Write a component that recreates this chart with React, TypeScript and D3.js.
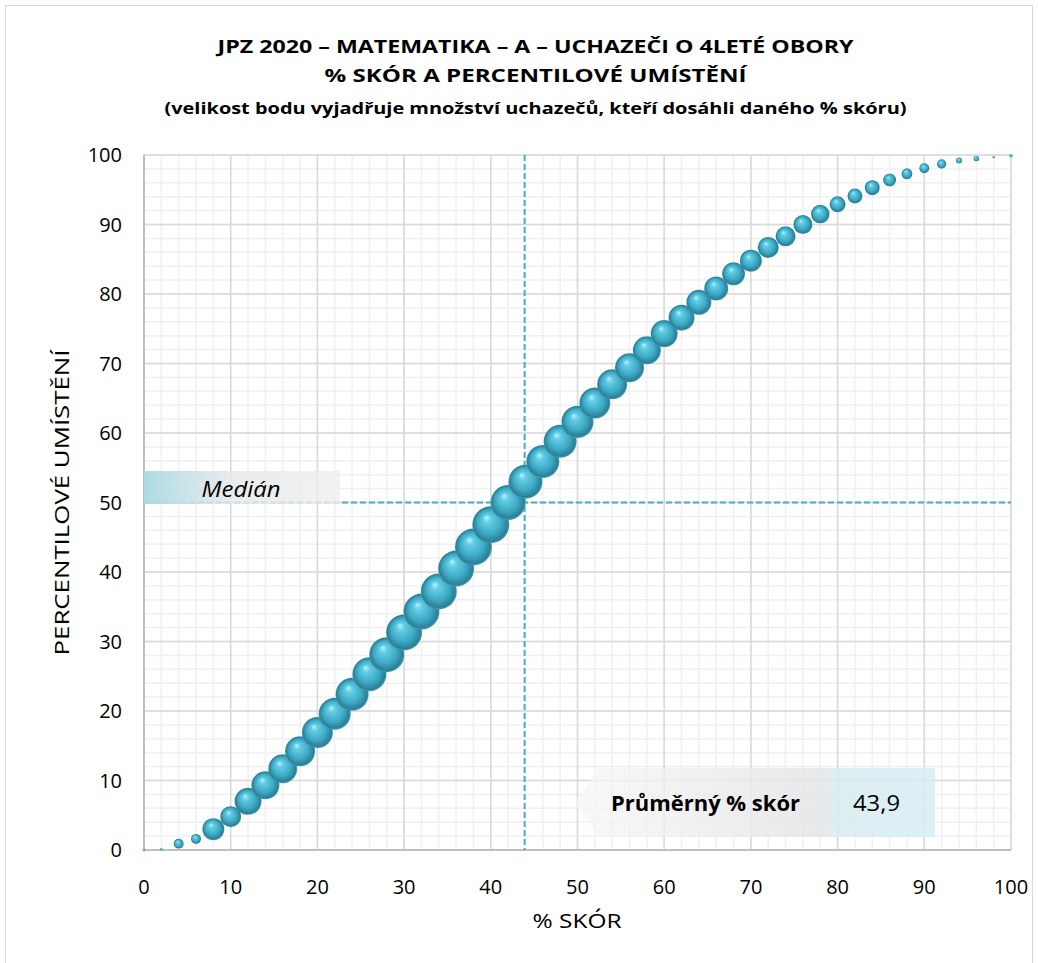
import React from "react";
import * as d3 from "d3";

const scorePct = [0, 2, 4, 6, 8, 10, 12, 14, 16, 18, 20, 22, 24, 26, 28, 30, 32, 34, 36, 38, 40, 42, 44, 46, 48, 50, 52, 54, 56, 58, 60, 62, 64, 66, 68, 70, 72, 74, 76, 78, 80, 82, 84, 86, 88, 90, 92, 94, 96, 98, 100];
const percentile = [0, 0.1, 0.9, 1.6, 3.0, 4.8, 7.0, 9.3, 11.7, 14.2, 16.9, 19.6, 22.4, 25.3, 28.1, 31.3, 34.3, 37.2, 40.5, 43.6, 46.8, 50.0, 53.0, 55.9, 58.8, 61.6, 64.3, 67.0, 69.4, 71.9, 74.3, 76.6, 78.8, 80.8, 82.9, 84.8, 86.7, 88.3, 90.0, 91.5, 92.9, 94.1, 95.3, 96.4, 97.3, 98.1, 98.7, 99.2, 99.5, 99.7, 99.9];
// relative number of candidates at each score (bubble size)
const candidates = [2, 1.5, 25, 25, 121, 110, 182, 196, 210, 225, 240, 256, 272, 289, 306, 324, 324, 324, 324, 342, 342, 306, 289, 272, 272, 256, 240, 225, 210, 196, 182, 169, 156, 144, 132, 121, 110, 100, 90, 86, 64, 56, 56, 42, 30, 25, 22, 9, 8, 1.7, 3];

const xTicks = [0, 10, 20, 30, 40, 50, 60, 70, 80, 90, 100];
const yTicks = [0, 10, 20, 30, 40, 50, 60, 70, 80, 90, 100];
const minorTicks = d3.range(0, 101, 2);

const meanScore = 43.9;
const medianPercentile = 50;
const meanLabel = "43,9";

const titleLines = [
  "JPZ 2020 – MATEMATIKA – A – UCHAZEČI O 4LETÉ OBORY",
  "% SKÓR A PERCENTILOVÉ UMÍSTĚNÍ",
  "(velikost bodu vyjadřuje množství uchazečů, kteří dosáhli daného % skóru)",
];

const W = 1038;
const H = 963;
const L = 144, R = 1011, T = 155, B = 850;

export default function App() {
  const x = d3.scaleLinear().domain([0, 100]).range([L, R]);
  const y = d3.scaleLinear().domain([0, 100]).range([B, T]);
  const r = d3.scaleSqrt().domain([0, d3.max(candidates) as number]).range([0, 18.5]);
  const font = "'Open Sans', 'DejaVu Sans', sans-serif";
  const lineColor = "#45aec8";

  const pts = scorePct.map((s, i) => ({ s, p: percentile[i], c: candidates[i] }));

  return (
    <svg width={W} height={H} style={{ position: "absolute", left: 0, top: 0, background: "#fff" }} fontFamily={font}>
      <defs>
        <radialGradient id="ball" cx="50%" cy="50%" r="50%" fx="38%" fy="30%">
          <stop offset="0%" stopColor="#b8f5fd" />
          <stop offset="22%" stopColor="#62cde4" />
          <stop offset="65%" stopColor="#3ea9c4" />
          <stop offset="92%" stopColor="#2a8098" />
          <stop offset="100%" stopColor="#4a9db1" />
        </radialGradient>
        <linearGradient id="medGrad" x1="0" x2="1" y1="0" y2="0">
          <stop offset="0%" stopColor="#a9d9e4" stopOpacity={0.95} />
          <stop offset="45%" stopColor="#e6e9ea" stopOpacity={0.85} />
          <stop offset="100%" stopColor="#eeeeee" stopOpacity={0.8} />
        </linearGradient>
        <linearGradient id="meanGrad" x1="0" x2="1" y1="0" y2="0">
          <stop offset="0%" stopColor="#f6f6f6" stopOpacity={0.7} />
          <stop offset="40%" stopColor="#ececec" stopOpacity={0.85} />
          <stop offset="70%" stopColor="#e3e5e6" stopOpacity={0.85} />
          <stop offset="72%" stopColor="#d8ecf1" stopOpacity={0.85} />
          <stop offset="100%" stopColor="#d5edf3" stopOpacity={0.85} />
        </linearGradient>
      </defs>

      <rect x={5.5} y={5.5} width={1027} height={965} fill="#fff" stroke="#d9d9d9" strokeWidth={1} />

      {titleLines.map((t, i) => (
        <text
          key={i}
          x={(L + R) / 2 - 42}
          y={[53, 82, 114][i]}
          textAnchor="middle"
          fontWeight="bold"
          fontSize={i < 2 ? 18 : 16}
          fill="#000"
          textLength={[636, 422, 742][i]}
          lengthAdjust="spacingAndGlyphs"
        >
          {t}
        </text>
      ))}

      {/* minor grid */}
      {minorTicks.map((v) => (
        <g key={"m" + v}>
          <line x1={x(v)} x2={x(v)} y1={T} y2={B} stroke="#f0f0f0" strokeWidth={1.5} />
          <line x1={L} x2={R} y1={y(v)} y2={y(v)} stroke="#f0f0f0" strokeWidth={1.5} />
        </g>
      ))}
      {/* major grid */}
      {xTicks.map((v) => (
        <line key={"gx" + v} x1={x(v)} x2={x(v)} y1={T} y2={B} stroke="#d9d9d9" strokeWidth={1.5} />
      ))}
      {yTicks.map((v) => (
        <line key={"gy" + v} x1={L} x2={R} y1={y(v)} y2={y(v)} stroke="#d9d9d9" strokeWidth={1.5} />
      ))}
      <line x1={L} x2={L} y1={T} y2={B} stroke="#bfbfbf" strokeWidth={2} />
      <line x1={L} x2={R} y1={B} y2={B} stroke="#bfbfbf" strokeWidth={2} />

      {/* reference lines */}
      <line x1={L} x2={R} y1={y(medianPercentile)} y2={y(medianPercentile)} stroke={lineColor} strokeWidth={2} strokeDasharray="6,3" />
      <line x1={x(meanScore)} x2={x(meanScore)} y1={T} y2={B} stroke={lineColor} strokeWidth={2} strokeDasharray="6,3" />

      {/* tick labels */}
      {xTicks.map((v) => (
        <text key={"tx" + v} x={x(v)} y={894} textAnchor="middle" fontSize={20} fill="#000">
          {v}
        </text>
      ))}
      {yTicks.map((v) => (
        <text key={"ty" + v} x={122} y={y(v) + 7} textAnchor="end" fontSize={20} fill="#000">
          {v}
        </text>
      ))}
      <text x={577} y={928} textAnchor="middle" fontSize={20} fill="#000" textLength={89} lengthAdjust="spacingAndGlyphs">
        % SKÓR
      </text>
      <text
        transform={`translate(69, ${(T + B) / 2}) rotate(-90)`}
        textAnchor="middle"
        fontSize={20}
        fill="#000"
        textLength={306}
        lengthAdjust="spacingAndGlyphs"
      >
        PERCENTILOVÉ UMÍSTĚNÍ
      </text>

      {/* median label box */}
      <rect x={L} y={471} width={196} height={33} fill="url(#medGrad)" />
      <text x={241} y={497} textAnchor="middle" fontSize={22} fontStyle="italic" fill="#000" textLength={79} lengthAdjust="spacingAndGlyphs">
        Medián
      </text>

      {/* bubbles */}
      {pts.map((d, i) => (
        <circle key={i} cx={x(d.s)} cy={y(d.p)} r={Math.max(r(d.c), 1.2)} fill="url(#ball)" />
      ))}

      {/* mean label box */}
      <path d="M574,803 L599,768 L935,768 L935,837 L599,837 Z" fill="url(#meanGrad)" />
      <text x={611} y={811} fontSize={21} fontWeight="bold" fill="#000" textLength={189} lengthAdjust="spacingAndGlyphs">
        Průměrný % skór
      </text>
      <text x={853} y={811} fontSize={21} fill="#000" textLength={47} lengthAdjust="spacingAndGlyphs">
        {meanLabel}
      </text>
    </svg>
  );
}
